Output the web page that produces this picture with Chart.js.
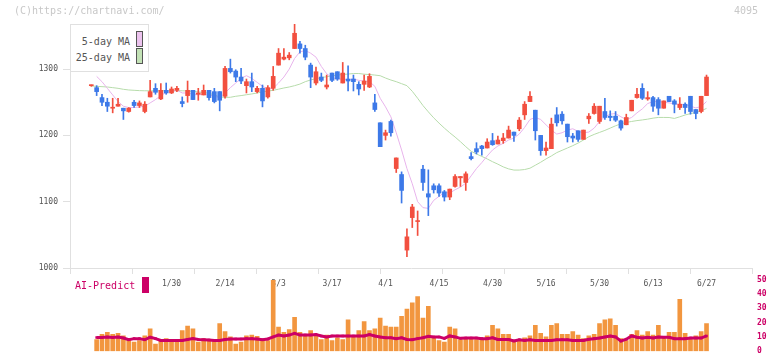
<!DOCTYPE html>
<html>
<head>
<meta charset="utf-8">
<script src="https://cdn.jsdelivr.net/npm/chart.js@4.4.1/dist/chart.umd.min.js"></script>
<style>
  body { margin: 0; background: #fff; }
  #wrap { position: relative; width: 772px; height: 361px; overflow: hidden; font-family: "DejaVu Sans Mono", monospace; }
  #priceChart { position: absolute; left: 0; top: 0; }
  #volChart { position: absolute; left: 0; top: 270px; }
  .txt { position: absolute; white-space: nowrap; line-height: 1; }
  #legend { position: absolute; left: 70px; top: 24px; width: 77px; height: 46px; border: 1px solid #e0e0e0; background: #fff; }
  .sw { position: absolute; width: 5px; height: 14px; border: 1px solid #555; }
</style>
</head>
<body>
<div id="wrap">
  <canvas id="priceChart" width="772" height="290"></canvas>
  <canvas id="volChart" width="772" height="91"></canvas>

  <div class="txt" style="left:14px; top:6px; font-size:10px; color:#c8c8c8;">(C)https://chartnavi.com/</div>
  <div class="txt" style="left:734px; top:6px; font-size:10px; color:#c8c8c8;">4095</div>

  <div id="legend">
    <div class="txt" style="right:18px; top:12px; font-size:10px; color:#555;">5-day MA</div>
    <div class="sw" style="left:65px; top:6px; background:#ecc3ee;"></div>
    <div class="txt" style="right:18px; top:28px; font-size:10px; color:#555;">25-day MA</div>
    <div class="sw" style="left:65px; top:23px; background:#c3e2b6;"></div>
  </div>

  <div class="txt" style="left:75px; top:281px; font-size:10px; color:#cc0066;">AI-Predict</div>
  <div style="position:absolute; left:142px; top:277px; width:7px; height:16px; background:#cc0066;"></div>
</div>

<script>
// trading days shown (2025)
const tradingDays = [
  [1, [8, 9, 10, 14, 15, 16, 17, 20, 21, 22, 23, 24, 27, 28, 29, 30, 31]],
  [2, [3, 4, 5, 6, 7, 10, 12, 13, 14, 17, 18, 19, 20, 21, 25, 26, 27, 28]],
  [3, [3, 4, 5, 6, 7, 10, 11, 12, 13, 14, 17, 18, 19, 21, 24, 25, 26, 27, 28, 31]],
  [4, [1, 2, 3, 4, 7, 8, 9, 10, 11, 14, 15, 16, 17, 18, 21, 22, 23, 24, 25, 28, 30]],
  [5, [1, 2, 7, 8, 9, 12, 13, 14, 15, 16, 19, 20, 21, 22, 23, 26, 27, 28, 29, 30]],
  [6, [2, 3, 4, 5, 6, 9, 10, 11, 12, 13, 16, 17, 18, 19, 20, 23, 24, 25, 26, 27]]
];
const tickDates = ["1/30", "2/14", "3/3", "3/17", "4/1", "4/15", "4/30", "5/16", "5/30", "6/13", "6/27"];
const priceTicks = [1000, 1100, 1200, 1300];
const volTicks = [0, 10, 20, 30, 40, 50];

const opens = [
  1275, 1272, 1257, 1250, 1241, 1244, 1241, 1236, 1250, 1245,
  1236, 1258, 1271, 1255, 1268, 1264, 1268, 1251, 1260, 1268,
  1262, 1261, 1268, 1266, 1266, 1259, 1301, 1297, 1288, 1275,
  1281, 1266, 1271, 1258, 1271, 1306, 1315, 1317, 1331, 1338,
  1331, 1306, 1279, 1288, 1273, 1294, 1296, 1279, 1285, 1285,
  1277, 1277, 1273, 1249, 1219, 1200, 1221, 1150, 1141, 1027,
  1076, 1070, 1149, 1112, 1124, 1124, 1115, 1107, 1123, 1136,
  1129, 1168, 1180, 1184, 1181, 1192, 1187, 1192, 1196, 1205,
  1210, 1231, 1251, 1238, 1200, 1177, 1180, 1231, 1232, 1217,
  1199, 1207, 1194, 1225, 1233, 1221, 1236, 1229, 1229, 1222,
  1216, 1237, 1257, 1271, 1255, 1257, 1254, 1241, 1259, 1252,
  1242, 1247, 1259, 1239, 1236, 1260
];
const highs = [
  1276, 1275, 1262, 1256, 1256, 1256, 1241, 1242, 1253, 1252,
  1251, 1283, 1278, 1278, 1279, 1273, 1274, 1258, 1282, 1268,
  1271, 1276, 1268, 1271, 1266, 1304, 1315, 1299, 1301, 1285,
  1294, 1274, 1276, 1275, 1304, 1331, 1331, 1325, 1368, 1342,
  1336, 1309, 1303, 1294, 1291, 1294, 1296, 1310, 1305, 1291,
  1281, 1291, 1293, 1262, 1219, 1208, 1223, 1166, 1145, 1059,
  1096, 1086, 1155, 1148, 1127, 1127, 1117, 1119, 1141, 1138,
  1145, 1174, 1189, 1185, 1195, 1203, 1199, 1203, 1214, 1205,
  1227, 1251, 1266, 1238, 1200, 1190, 1226, 1242, 1236, 1217,
  1203, 1207, 1208, 1233, 1248, 1244, 1256, 1237, 1236, 1223,
  1232, 1253, 1271, 1278, 1266, 1259, 1257, 1252, 1259, 1254,
  1257, 1249, 1259, 1239, 1259, 1291
];
const lows = [
  1274, 1260, 1245, 1236, 1234, 1244, 1224, 1235, 1242, 1242,
  1234, 1258, 1262, 1254, 1262, 1263, 1266, 1243, 1250, 1254,
  1253, 1261, 1253, 1249, 1237, 1256, 1294, 1281, 1278, 1264,
  1266, 1264, 1243, 1256, 1268, 1306, 1314, 1314, 1331, 1324,
  1314, 1272, 1276, 1281, 1270, 1281, 1283, 1279, 1267, 1267,
  1261, 1268, 1272, 1236, 1183, 1193, 1199, 1144, 1098, 1017,
  1061, 1049, 1117, 1079, 1113, 1108, 1101, 1103, 1122, 1123,
  1117, 1163, 1172, 1170, 1181, 1185, 1187, 1188, 1196, 1191,
  1207, 1224, 1251, 1193, 1170, 1170, 1180, 1214, 1217, 1190,
  1190, 1191, 1194, 1218, 1232, 1218, 1224, 1222, 1221, 1208,
  1216, 1237, 1256, 1254, 1253, 1236, 1231, 1241, 1251, 1234,
  1239, 1233, 1232, 1225, 1234, 1260
];
const closes = [
  1276, 1266, 1250, 1244, 1242, 1247, 1237, 1241, 1245, 1249,
  1247, 1266, 1265, 1268, 1264, 1270, 1271, 1248, 1268, 1254,
  1264, 1268, 1257, 1251, 1253, 1301, 1296, 1288, 1282, 1281,
  1273, 1271, 1252, 1272, 1289, 1324, 1318, 1321, 1354, 1331,
  1318, 1288, 1296, 1283, 1276, 1283, 1285, 1294, 1282, 1281,
  1270, 1282, 1289, 1239, 1183, 1204, 1204, 1166, 1117, 1047,
  1092, 1071, 1129, 1107, 1118, 1113, 1107, 1119, 1138, 1138,
  1142, 1165, 1175, 1180, 1190, 1186, 1193, 1196, 1208, 1200,
  1223, 1247, 1259, 1207, 1177, 1181, 1217, 1219, 1222, 1198,
  1196, 1194, 1208, 1229, 1244, 1244, 1227, 1227, 1223, 1211,
  1227, 1253, 1262, 1256, 1257, 1244, 1241, 1252, 1251, 1247,
  1247, 1242, 1236, 1233, 1259, 1288
];
const ma5 = [
  null, 1289, 1281, 1271, 1261, 1251, 1244, 1242, 1242, 1243,
  1244, 1249, 1254, 1260, 1265, 1266, 1268, 1264, 1264, 1262,
  1261, 1262, 1261, 1259, 1257, 1264, 1272, 1279, 1286, 1290,
  1286, 1280, 1274, 1270, 1271, 1279, 1288, 1300, 1316, 1326,
  1328, 1324, 1318, 1304, 1293, 1287, 1285, 1285, 1284, 1285,
  1283, 1282, 1281, 1274, 1256, 1243, 1228, 1204, 1178, 1150,
  1127, 1100, 1091, 1090, 1102, 1108, 1114, 1113, 1118, 1122,
  1128, 1139, 1150, 1159, 1169, 1178, 1184, 1188, 1193, 1196,
  1202, 1212, 1224, 1227, 1224, 1216, 1208, 1202, 1204, 1208,
  1210, 1206, 1204, 1205, 1211, 1221, 1228, 1232, 1233, 1228,
  1224, 1227, 1234, 1240, 1248, 1251, 1251, 1250, 1249, 1247.5,
  1247, 1246.5, 1244, 1241.5, 1243.5, 1251
];
const ma25 = [
  1274.4, 1274, 1273.5, 1273, 1272, 1271, 1269.5, 1268.5, 1268, 1267.5,
  1267.3, 1267.3, 1267.3, 1267.3, 1267.3, 1267.3, 1267.3, 1267.3, 1267, 1266.3,
  1265.7, 1264.7, 1263.5, 1261, 1258, 1257.3, 1257.5, 1259, 1260, 1261.3,
  1262.5, 1264, 1265.5, 1266.8, 1268, 1269.7, 1271.5, 1273, 1275, 1277.4,
  1281, 1283.6, 1285.5, 1287.3, 1288.4, 1289.8, 1291, 1291.8, 1292.5, 1293.3,
  1293.3, 1292.3, 1291.8, 1291, 1290, 1286.5, 1283.5, 1281, 1278, 1275,
  1266.5, 1256, 1245, 1235.5, 1226.5, 1218.5, 1211, 1204, 1197.5, 1190.5,
  1183, 1176, 1172, 1168.3, 1164.5, 1160.3, 1156.6, 1152.5, 1149.5, 1147.7,
  1147.7, 1148.5, 1150.5, 1155, 1159.5, 1164.5, 1169, 1174, 1177.5, 1181,
  1184.5, 1188.5, 1193, 1198, 1201.5, 1204.5, 1207.5, 1211, 1214.5, 1217.5,
  1219.5, 1221, 1222.3, 1223.3, 1224.5, 1226, 1227.1, 1227.1, 1227, 1225.6,
  1228, 1230.8, 1232.8, 1234.6, 1237, 1240.7
];
const volume = [
  null, 8.2, 11.9, 13.2, 11.9, 12.5, 10.7, 7.5, 6.3, 7.5,
  10.7, 15.7, 5.0, 7.5, 8.8, 7.5, 7.5, 14.4, 17.6, 15.7,
  6.3, 8.8, 7.5, 7.5, 19.4, 13.8, 10.0, 5.0, 6.3, 10.7,
  11.3, 10.5, 7.5, 7.5, 49.6, 16.9, 13.2, 15.1, 23.8, 13.2,
  11.9, 14.4, 11.3, 8.2, 11.3, 7.5, 9.4, 8.2, 22.0, 10.0,
  14.4, 20.7, 14.4, 15.7, 23.2, 17.6, 16.9, 16.9, 24.5, 29.5,
  33.9, 38.3, 23.2, 31.4, 9.4, 7.5, 6.3, 16.9, 15.7, 8.2,
  8.8, 8.8, 8.2, 8.8, 10.7, 18.2, 15.7, 11.9, 11.9, 7.5,
  7.5, 9.4, 10.7, 18.2, 12.5, 10.0, 18.2, 19.4, 11.9, 11.9,
  13.8, 11.3, 8.8, 10.7, 11.9, 19.4, 22.0, 22.6, 18.2, 8.8,
  7.5, 11.9, 14.4, 11.3, 13.8, 11.3, 18.2, 10.0, 13.2, 13.2,
  36.4, 12.5, 8.8, 10.7, 13.8, 19.4
];
const aiPredict = [
  null, 9.6, 9.6, 10.0, 9.6, 10.0, 9.2, 8.0, 8.8, 8.8,
  8.0, 9.8, 8.8, 7.5, 7.5, 7.5, 7.5, 7.5, 8.2, 8.8,
  8.2, 8.0, 7.8, 7.5, 7.5, 8.2, 8.6, 8.6, 8.6, 8.8,
  8.8, 8.6, 8.0, 8.6, 10.0, 11.3, 10.7, 11.3, 12.5, 11.3,
  11.3, 11.3, 11.7, 10.7, 10.0, 10.7, 10.7, 10.7, 10.7, 10.7,
  10.7, 10.7, 11.7, 10.7, 10.0, 9.4, 9.4, 8.8, 9.4, 8.2,
  8.0, 8.8, 9.4, 10.5, 10.0, 10.0, 9.0, 10.7, 10.0, 9.0,
  9.2, 9.2, 9.2, 8.8, 8.8, 9.4, 8.2, 8.2, 8.2, 7.1,
  8.0, 7.5, 8.0, 7.5, 7.5, 7.5, 7.5, 8.0, 8.0, 8.0,
  7.5, 7.5, 7.5, 8.4, 8.8, 9.2, 10.0, 10.7, 10.0, 7.1,
  8.4, 10.7, 9.8, 9.2, 9.8, 9.2, 10.0, 9.8, 9.8, 8.8,
  8.8, 8.8, 9.2, 9.2, 9.2, 10.7
];

const dates = tradingDays.flatMap(([m, days]) => days.map((d) => m + "/" + d));

const UP = "#f24f3f";
const DOWN = "#3d79e8";
const AXIS = "#e0e0e0";
const X_MIN = -3.98;
const X_MAX = 123.5;
const monoFont = { family: "DejaVu Sans Mono", size: 8 };

const candleColors = dates.map((d, i) => (closes[i] >= opens[i] ? UP : DOWN));
const wickData = dates.map((d, i) => ({ x: i, y: [lows[i], highs[i]] }));
const bodyData = dates.map((d, i) => ({ x: i, y: [opens[i], closes[i]] }));
const toXY = (arr) => arr.map((v, i) => ({ x: i, y: v }));

new Chart(document.getElementById("priceChart"), {
  type: "bar",
  data: {
    datasets: [
      { type: "line", label: "25-day MA", data: toXY(ma25), borderColor: "#b7dcab", borderWidth: 1, pointRadius: 0, order: 3 },
      { type: "line", label: "5-day MA", data: toXY(ma5), borderColor: "#e8b4ec", borderWidth: 1, pointRadius: 0, order: 2 },
      { label: "wick", data: wickData, backgroundColor: candleColors, barThickness: 1, grouped: false, order: 1 },
      { label: "body", data: bodyData, backgroundColor: candleColors, barThickness: 4, grouped: false, minBarLength: 1, order: 0 }
    ]
  },
  options: {
    responsive: false,
    animation: false,
    layout: { padding: { top: 24, right: 20, left: 0, bottom: 0 } },
    plugins: { legend: { display: false }, tooltip: { enabled: false } },
    scales: {
      x: {
        type: "linear", min: X_MIN, max: X_MAX, weight: 1, offset: false,
        grid: { display: false, drawTicks: false, offset: false },
        border: { display: true, color: AXIS },
        afterBuildTicks: (s) => {
          s.ticks = tickDates.map((t) => ({ value: dates.indexOf(t) }));
        },
        ticks: { font: monoFont, color: "#555", padding: 11, maxRotation: 0, autoSkip: false, callback: (v) => dates[v] },
        afterFit: (s) => { s.height = 22; }
      },
      xt: {
        type: "linear", axis: "x", position: "bottom", min: 0, max: 11, weight: 0, offset: false,
        ticks: { display: false, stepSize: 1 },
        grid: { drawOnChartArea: false, drawTicks: true, tickLength: 6, color: AXIS, offset: false },
        border: { display: false },
        afterFit: (s) => { s.height = 0; }
      },
      y: {
        type: "linear", position: "left", min: 1000, max: 1368,
        afterBuildTicks: (s) => {
          s.ticks = priceTicks.map((v) => ({ value: v }));
        },
        grid: { drawOnChartArea: false, tickLength: 7, color: AXIS },
        border: { color: AXIS },
        ticks: { font: monoFont, color: "#555", padding: 5, callback: (v) => String(v) },
        afterFit: (s) => { s.width = 70; }
      }
    }
  }
});

new Chart(document.getElementById("volChart"), {
  type: "bar",
  data: {
    datasets: [
      {
        type: "line", label: "AI-Predict", data: toXY(aiPredict),
        borderColor: "#cc0066", borderWidth: 3, pointStyle: "rect", pointRadius: 1.8,
        pointBackgroundColor: "#cc0066", pointBorderWidth: 0, order: 0
      },
      { label: "volume", data: toXY(volume), backgroundColor: "#f2963f", barThickness: 4, order: 1 }
    ]
  },
  options: {
    responsive: false,
    animation: false,
    layout: { padding: { top: 8, right: 0, left: 70, bottom: 3 } },
    plugins: { legend: { display: false }, tooltip: { enabled: false } },
    scales: {
      x: { type: "linear", min: X_MIN, max: X_MAX, display: false, offset: false, grid: { offset: false } },
      y: {
        type: "linear", position: "right", min: 0, max: 50,
        afterBuildTicks: (s) => {
          s.ticks = volTicks.map((v) => ({ value: v }));
        },
        grid: { display: false, drawTicks: false },
        border: { display: false },
        ticks: { font: { family: "DejaVu Sans Mono", size: 8, weight: "bold" }, color: "#cc0066", padding: 5 },
        afterFit: (s) => { s.width = 20; }
      }
    }
  }
});
</script>
</body>
</html>
